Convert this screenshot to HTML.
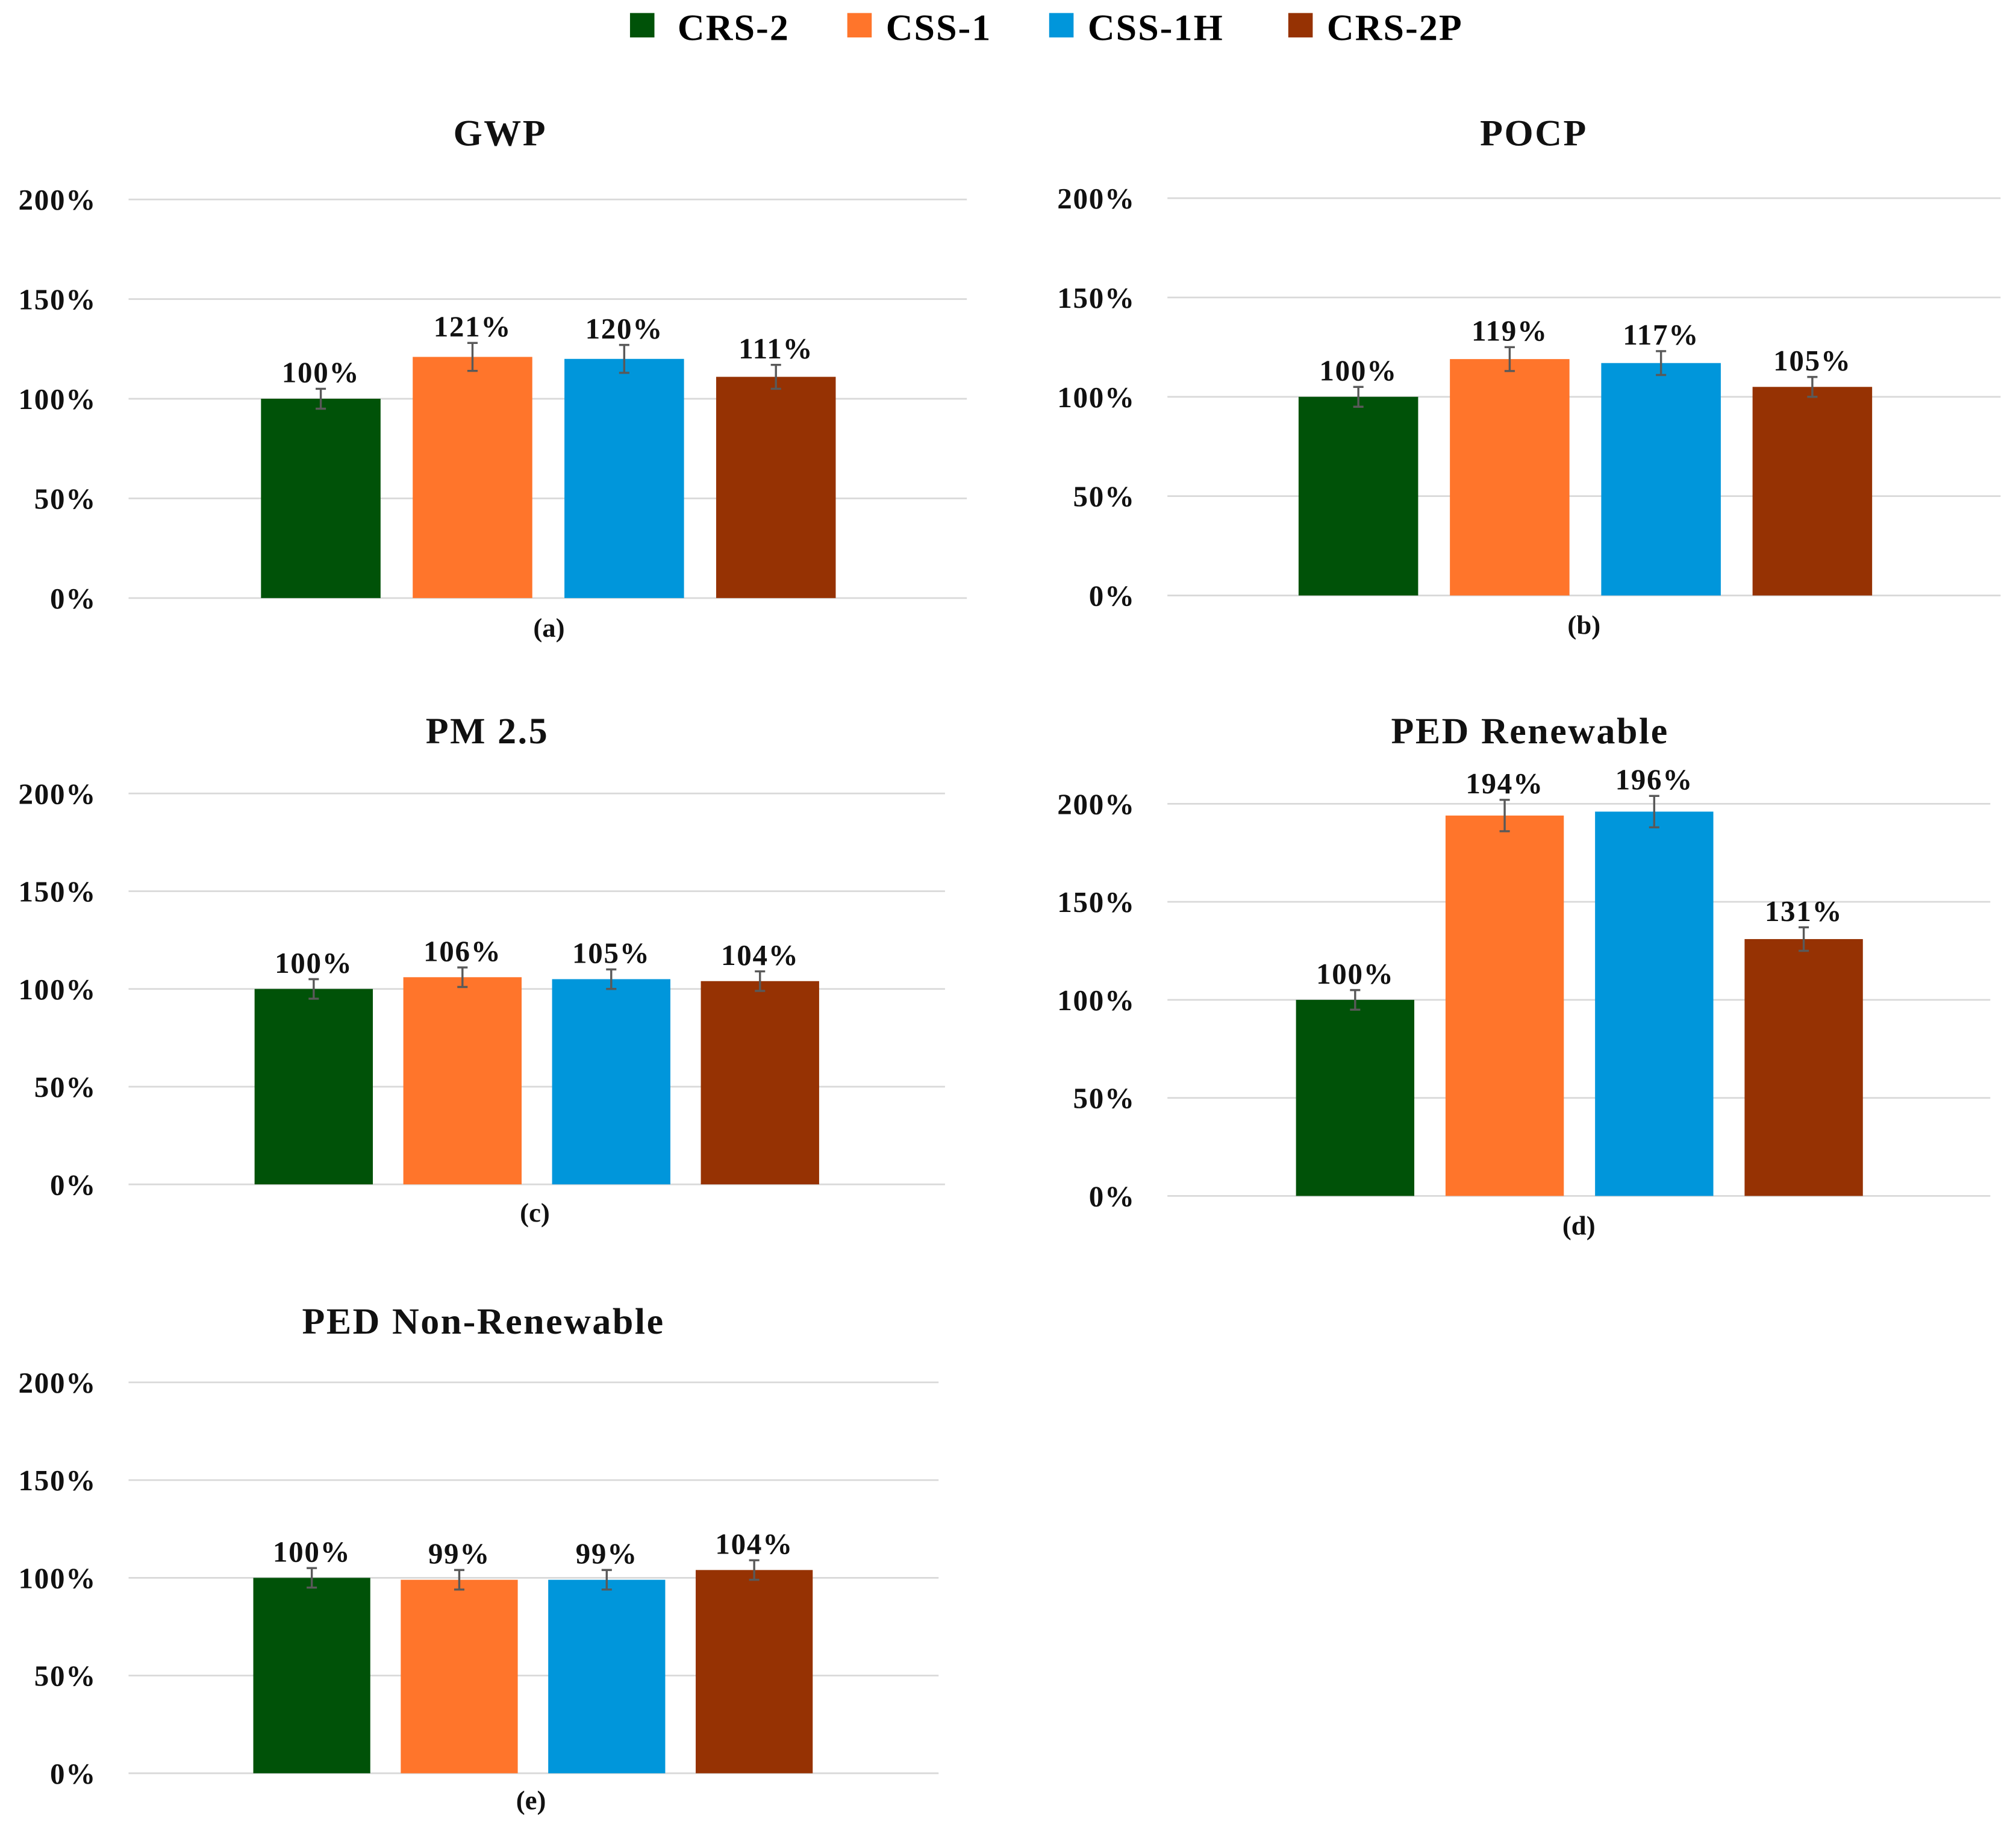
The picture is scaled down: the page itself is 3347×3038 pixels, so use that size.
<!DOCTYPE html>
<html><head><meta charset="utf-8"><style>
html,body{margin:0;padding:0;background:#fff;}
svg{display:block;font-family:"Liberation Serif",serif;}
</style></head><body>
<svg id="fig" width="3347" height="3038" viewBox="0 0 1568 1423" xmlns="http://www.w3.org/2000/svg">
<g font-weight="bold" font-size="29" letter-spacing="1">
 <g><rect x="490" y="10" width="19" height="19" fill="#005208"/><text x="527" y="31">CRS-2</text></g>
 <g><rect x="659" y="10" width="19" height="19" fill="#ff752b"/><text x="689" y="31">CSS-1</text></g>
 <g><rect x="816" y="10" width="19" height="19" fill="#0096db"/><text x="846" y="31">CSS-1H</text></g>
 <g><rect x="1002" y="10" width="19" height="19" fill="#963203"/><text x="1032" y="31">CRS-2P</text></g>
</g>
<g id="charts"></g>
</svg>
<script>
const series = ["CRS-2","CSS-1","CSS-1H","CRS-2P"];
const colors = ["#005208","#ff752b","#0096db","#963203"];
const titles = ["GWP","POCP","PM 2.5","PED Renewable","PED Non-Renewable"];
const captions = ["(a)","(b)","(c)","(d)","(e)"];
const valsA = [100,121,120,111];
const valsB = [100,119,117,105];
const valsC = [100,106,105,104];
const valsD = [100,194,196,131];
const valsE = [100,99,99,104];
const errA = [5,7,7,6];
const errB = [5,6,6,5];
const errC = [5,5,5,5];
const errD = [5,8,8,6];
const errE = [5,5,5,5];
const ticks = [0,50,100,150,200];
const tickLabels = ["0%","50%","100%","150%","200%"];
const allVals=[valsA,valsB,valsC,valsD,valsE];
const allErr=[errA,errB,errC,errD,errE];
const layout=[
 {x0:100,x1:752,yb:465,yt:155,b0:203,step:118,bw:93,tx:389,ty:113,cx:427,cy:495,lx:75},
 {x0:908,x1:1556,yb:463,yt:154,b0:1010,step:117.7,bw:93,tx:1193,ty:113,cx:1232,cy:493,lx:883},
 {x0:100,x1:735,yb:921,yt:617,b0:198,step:115.7,bw:92,tx:379,ty:578,cx:416,cy:950,lx:75},
 {x0:908,x1:1548,yb:930,yt:625,b0:1008,step:116.3,bw:92,tx:1190,ty:578,cx:1228,cy:960,lx:883},
 {x0:100,x1:730,yb:1379,yt:1075,b0:197,step:114.7,bw:91,tx:376,ty:1037,cx:413,cy:1407,lx:75}
];
const NS="http://www.w3.org/2000/svg";
const root=document.getElementById("charts");
function mk(tag,attrs,parent){const e=document.createElementNS(NS,tag);for(const k in attrs)e.setAttribute(k,attrs[k]);parent.appendChild(e);return e;}
layout.forEach((L,ci)=>{
 const g=mk("g",{},root);
 
 
 const yS=v=>L.yb-(v/200)*(L.yb-L.yt);
 const xS=i=>L.b0+i*L.step;
 ticks.forEach((t,ti)=>{
  const ln=mk("line",{x1:L.x0,x2:L.x1,y1:yS(t),y2:yS(t),stroke:"#d9d9d9","stroke-width":1.3},g);
  
  
  const tx=mk("text",{x:L.lx,y:yS(t)+8,"text-anchor":"end","font-size":23,"font-weight":"bold",fill:"#111","letter-spacing":0.8},g);
  tx.textContent=tickLabels[ti];
  
  
 });
 const tt=mk("text",{x:L.tx,y:L.ty,"text-anchor":"middle","font-size":29,"font-weight":"bold",fill:"#111","letter-spacing":1.2},g);
 tt.textContent=titles[ci];
 
 
 const cp=mk("text",{x:L.cx,y:L.cy,"text-anchor":"middle","font-size":21,"font-weight":"bold",fill:"#111"},g);
 cp.textContent=captions[ci];
 
 
 allVals[ci].forEach((v,i)=>{
  const x=xS(i),y=yS(v);
  const r=mk("rect",{x:x,y:y,width:L.bw,height:L.yb-y,fill:colors[i]},g);
  
  
  const e=allErr[ci][i],cx=x+L.bw/2;
  const eb=mk("path",{d:`M${cx},${yS(v-e)}V${yS(v+e)}M${cx-4},${yS(v-e)}H${cx+4}M${cx-4},${yS(v+e)}H${cx+4}`,stroke:"#595959","stroke-width":1.6,fill:"none"},g);
  
  
  const lb=mk("text",{x:cx,y:yS(v+e)-5,"text-anchor":"middle","font-size":23,"font-weight":"bold",fill:"#111","letter-spacing":0.8},g);
  lb.textContent=v+"%";
  
  
 });
});
</script>
</body></html>
